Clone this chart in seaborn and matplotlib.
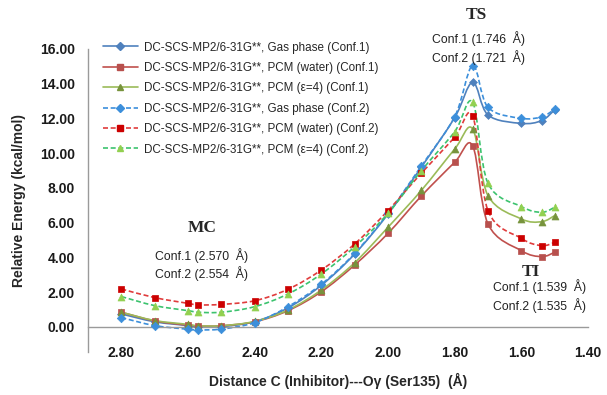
import numpy as np
import pandas as pd
import seaborn as sns
import matplotlib.pyplot as plt
from matplotlib.path import Path
from matplotlib.patches import PathPatch
from matplotlib.lines import Line2D

# distance C(inhibitor)---O(Ser135), shared scan points
distance = [2.80, 2.70, 2.60, 2.57, 2.50, 2.40, 2.30, 2.20, 2.10, 2.00,
            1.90, 1.80, 1.746, 1.70, 1.60, 1.539, 1.50]

gas_conf1 = [0.75, 0.30, 0.08, 0.00, 0.02, 0.31, 1.10, 2.40, 4.20, 6.50,
             9.20, 12.05, 14.08, 12.20, 11.72, 11.88, 12.50]
water_conf1 = [0.85, 0.35, 0.10, 0.05, 0.07, 0.30, 0.94, 2.03, 3.57, 5.39,
               7.54, 9.48, 10.43, 5.93, 4.39, 4.05, 4.30]
eps4_conf1 = [0.85, 0.37, 0.15, 0.07, 0.07, 0.32, 0.98, 2.13, 3.70, 5.74,
              7.86, 10.24, 11.40, 7.56, 6.22, 6.06, 6.41]
gas_conf2 = [0.54, 0.08, -0.13, -0.17, -0.12, 0.25, 1.17, 2.46, 4.24, 6.54,
             9.27, 12.10, 15.04, 12.64, 12.01, 12.10, 12.53]
water_conf2 = [2.19, 1.69, 1.36, 1.27, 1.30, 1.51, 2.17, 3.28, 4.78, 6.70,
               8.85, 10.92, 12.16, 6.70, 5.10, 4.68, 4.87]
eps4_conf2 = [1.75, 1.23, 0.94, 0.85, 0.85, 1.17, 1.90, 3.05, 4.62, 6.54,
              9.00, 11.24, 12.93, 8.27, 6.93, 6.60, 6.89]

labels = [
    'DC-SCS-MP2/6-31G**, Gas phase (Conf.1)',
    'DC-SCS-MP2/6-31G**, PCM (water) (Conf.1)',
    'DC-SCS-MP2/6-31G**, PCM (\u03b5=4) (Conf.1)',
    'DC-SCS-MP2/6-31G**, Gas phase (Conf.2)',
    'DC-SCS-MP2/6-31G**, PCM (water) (Conf.2)',
    'DC-SCS-MP2/6-31G**, PCM (\u03b5=4) (Conf.2)',
]
values = [gas_conf1, water_conf1, eps4_conf1, gas_conf2, water_conf2, eps4_conf2]

# style per series: line colour, marker colour, marker, dashed, marker size
styles = [
    ('#4F81BD', '#4F81BD', 'D', False, 4.0),
    ('#C0504D', '#B8504D', 's', False, 4.5),
    ('#9BBB59', '#77933C', '^', False, 5.0),
    ('#3C8FDB', '#3C8FDB', 'D', True, 4.3),
    ('#E03C3C', '#CC0000', 's', True, 5.0),
    ('#3CC36E', '#92D050', '^', True, 5.0),
]

rows = []
for lab, vals in zip(labels, values):
    for d, e in zip(distance, vals):
        rows.append({'Distance': d, 'Energy': e, 'Series': lab})
df = pd.DataFrame(rows)


def smooth_path(xs, ys):
    # Excel-like smoothed line (Catmull-Rom as cubic Bezier)
    pts = np.column_stack([xs, ys])
    verts = [pts[0]]
    codes = [Path.MOVETO]
    n = len(pts)
    for i in range(n - 1):
        p0 = pts[i - 1] if i > 0 else pts[i]
        p1 = pts[i]
        p2 = pts[i + 1]
        p3 = pts[i + 2] if i + 2 < n else pts[i + 1]
        verts += [p1 + (p2 - p0) / 6, p2 - (p3 - p1) / 6, p2]
        codes += [Path.CURVE4] * 3
    return Path(verts, codes)


sns.set_style('white')
plt.rcParams['font.family'] = ['Liberation Sans', 'DejaVu Sans']

fig = plt.figure(figsize=(6.07, 3.95), dpi=100)
ax = fig.add_axes([88 / 607, 1 - 352 / 395, 500 / 607, 303 / 395])

handles = []
for lab, (lc, mc, mk, dashed, ms) in zip(labels, styles):
    sub = df[df['Series'] == lab]
    ls = (0, (3, 1.6)) if dashed else '-'
    patch = PathPatch(smooth_path(sub['Distance'].values, sub['Energy'].values),
                      facecolor='none', edgecolor=lc, lw=1.2, linestyle=ls, zorder=2)
    ax.add_patch(patch)
    sns.scatterplot(data=sub, x='Distance', y='Energy', ax=ax, marker=mk,
                    s=ms ** 2, color=mc, edgecolor=mc, linewidth=0.5, zorder=3,
                    legend=False)
    handles.append(Line2D([0], [0], color=lc, lw=1.2, linestyle=ls, marker=mk,
                          markersize=ms, markerfacecolor=mc, markeredgecolor=mc))

ax.set_xlim(2.9, 1.4)
ax.set_ylim(-1.44, 16)
ax.set_xticks(np.arange(2.8, 1.39, -0.2))
ax.set_yticks(np.arange(0, 16.1, 2))
ax.xaxis.set_major_formatter(plt.FormatStrFormatter('%.2f'))
ax.yaxis.set_major_formatter(plt.FormatStrFormatter('%.2f'))

for side in ['top', 'right']:
    ax.spines[side].set_visible(False)
for side in ['left', 'bottom']:
    ax.spines[side].set_color('#9A9A9A')
    ax.spines[side].set_linewidth(1.0)
ax.spines['bottom'].set_position(('data', 0))

ax.tick_params(axis='both', direction='out', length=3.5, width=1, color='#9A9A9A',
               labelsize=10, labelcolor='#1a1a1a')
ax.tick_params(axis='x', pad=10.5)
ax.tick_params(axis='y', pad=6)
for t in ax.get_xticklabels() + ax.get_yticklabels():
    t.set_fontweight('bold')

ax.set_xlabel('Distance C (Inhibitor)---O\u03b3 (Ser135)  (\u00c5)', fontsize=10,
              fontweight='bold', labelpad=9)
ax.set_ylabel('Relative Energy (kcal/mol)', fontsize=10, fontweight='bold',
              labelpad=10)

leg = ax.legend(handles, labels, loc='upper left', bbox_to_anchor=(0.02, 1.04),
                frameon=False, fontsize=8.4, handlelength=3.0, handletextpad=0.5,
                labelspacing=0.72, borderaxespad=0)

serif = ['Liberation Serif', 'DejaVu Serif']
notes = [
    (1.734, 17.96, 'TS', 1.728, [16.58, 15.48], ['Conf.1 (1.746  \u00c5)', 'Conf.2 (1.721  \u00c5)']),
    (2.557, 5.70, 'MC', 2.560, [4.09, 3.05], ['Conf.1 (2.570  \u00c5)', 'Conf.2 (2.554  \u00c5)']),
    (1.572, 3.17, 'TI', 1.545, [2.30, 1.21], ['Conf.1 (1.539  \u00c5)', 'Conf.2 (1.535  \u00c5)']),
]
for tx, ty, title, cx, cys, conf in notes:
    ax.text(tx, ty, title, ha='center', va='center', fontsize=12.5, fontweight='bold',
            family=serif, clip_on=False)
    for cy, c in zip(cys, conf):
        ax.text(cx, cy, c, ha='center', va='center', fontsize=8.8, color='#222222',
                clip_on=False)

fig.savefig('out.png', dpi=100)
